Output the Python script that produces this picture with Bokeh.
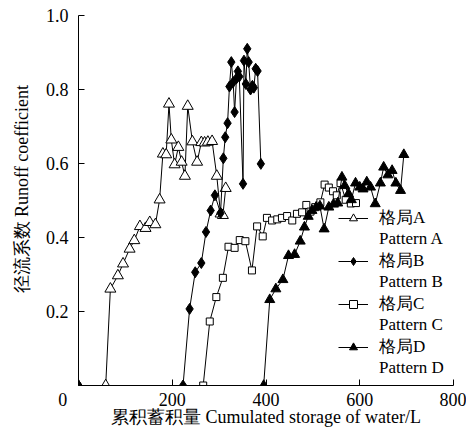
from bokeh.plotting import figure
from bokeh.models import (Range1d, FixedTicker, Legend, LegendItem,
                          NumeralTickFormatter, CustomJSTickFormatter)
from bokeh.embed import file_html
from bokeh.resources import INLINE

# ---------------- data ----------------
x_ticks = [0, 200, 400, 600, 800]
y_ticks = [0.2, 0.4, 0.6, 0.8, 1.0]

a_x = [58, 68, 84, 95, 109, 119, 131, 143, 152, 164, 173, 180, 187, 193, 198, 205, 213,
       220, 227, 233, 243, 253, 262, 269, 276, 285, 295, 303, 308, 314]
a_y = [0, 0.261, 0.297, 0.329, 0.369, 0.392, 0.430, 0.425, 0.441, 0.435, 0.502, 0.626, 0.624,
       0.761, 0.664, 0.597, 0.644, 0.604, 0.566, 0.755, 0.659, 0.604, 0.657, 0.656, 0.658,
       0.660, 0.566, 0.464, 0.460, 0.533]

b_x = [0, 223, 237, 249, 262, 272, 282, 291, 303, 309, 313, 318, 322, 326, 330, 333, 337,
       340, 343, 351, 353, 357, 360, 363, 367, 371, 374, 378, 382, 389]
b_y = [0, 0, 0.207, 0.306, 0.331, 0.415, 0.473, 0.514, 0.466, 0.614, 0.671, 0.709, 0.808,
       0.874, 0.820, 0.739, 0.830, 0.849, 0.835, 0.545, 0.878, 0.815, 0.910, 0.874, 0.800,
       0.810, 0.805, 0.856, 0.850, 0.599]

c_x = [266, 280, 294, 308, 320, 333, 344, 356, 370, 381, 393, 402, 413, 424, 434, 445, 456,
       466, 477, 486, 495, 505, 516, 525, 534, 543, 551, 559, 570, 581, 592]
c_y = [0, 0.173, 0.239, 0.291, 0.375, 0.372, 0.393, 0.390, 0.311, 0.430, 0.403, 0.453,
       0.446, 0.449, 0.453, 0.458, 0.446, 0.464, 0.468, 0.488, 0.470, 0.482, 0.495, 0.543,
       0.535, 0.525, 0.514, 0.547, 0.502, 0.492, 0.493]

d_x = [0, 395, 408, 421, 436, 448, 461, 473, 482, 490, 498, 507, 515, 524, 534, 544, 553,
       562, 568, 576, 582, 591, 600, 607, 615, 623, 633, 644, 651, 660, 669, 677, 687, 694]
d_y = [0, 0, 0.232, 0.261, 0.286, 0.351, 0.354, 0.390, 0.428, 0.457, 0.473, 0.482, 0.485,
       0.423, 0.482, 0.490, 0.493, 0.563, 0.540, 0.518, 0.502, 0.547, 0.536, 0.531, 0.550,
       0.536, 0.491, 0.547, 0.590, 0.569, 0.581, 0.547, 0.527, 0.624]

names_cn = ["格局A", "格局B", "格局C", "格局D"]
names_en = ["Pattern A", "Pattern B", "Pattern C", "Pattern D"]

x_label = "累积蓄积量 Cumulated storage of water/L"
y_label = "径流系数 Runoff coefficient"

FONT = "Liberation Serif"
NB = "\u00a0"

# ---------------- figure ----------------
p = figure(width=466, height=437, output_backend="svg", toolbar_location=None,
           x_range=Range1d(0, 800), y_range=Range1d(0, 1.0),
           min_border_left=78, min_border_right=13, min_border_top=15, min_border_bottom=52)
p.outline_line_color = None
p.xgrid.visible = False
p.ygrid.visible = False
p.background_fill_color = "white"
p.border_fill_color = "white"

for ax in (p.xaxis[0], p.yaxis[0]):
    ax.axis_line_color = "black"
    ax.axis_line_width = 1
    ax.major_tick_in = 6
    ax.major_tick_out = 0
    ax.minor_tick_in = 0
    ax.minor_tick_out = 0
    ax.major_tick_line_color = "black"
    ax.major_label_text_font = FONT
    ax.major_label_text_font_size = "18px"
    ax.major_label_text_color = "black"
    ax.axis_label_text_font = FONT
    ax.axis_label_text_font_size = "18px"
    ax.axis_label_text_font_style = "normal"
    ax.axis_label_text_color = "black"

p.xaxis.ticker = FixedTicker(ticks=x_ticks)
p.yaxis.ticker = FixedTicker(ticks=y_ticks)
# the origin "0" sits left of the corner in the reference: pad it on the right
p.xaxis.formatter = CustomJSTickFormatter(
    code="return tick == 0 ? '0' + '\\u00a0'.repeat(7) : String(tick);")
p.yaxis.formatter = NumeralTickFormatter(format="0.0")
p.xaxis.axis_label = x_label
p.yaxis.axis_label = NB * 5 + y_label
p.xaxis.major_label_standoff = 4
p.xaxis.axis_label_standoff = -6
p.yaxis.major_label_standoff = 10
p.yaxis.axis_label_standoff = 11

series = [
    (a_x, a_y, "triangle", 11, "white", "black"),
    (b_x, b_y, "diamond", 11, "black", "black"),
    (c_x, c_y, "square", 7, "white", "black"),
    (d_x, d_y, "triangle", 10, "black", "black"),
]

items = []
for (xs, ys, marker, size, fill, line), cn, en in zip(series, names_cn, names_en):
    r_line = p.line(xs, ys, line_color="black", line_width=1)
    r_pts = p.scatter(xs, ys, marker=marker, size=size, fill_color=fill,
                      line_color=line, line_width=1)
    dummy = p.line([], [], line_alpha=0)
    items.append(LegendItem(label=cn, renderers=[r_line, r_pts]))
    items.append(LegendItem(label=en, renderers=[dummy]))

legend = Legend(items=items, location=(260, 7), orientation="vertical",
                label_text_font=FONT, label_text_font_size="17px",
                label_text_color="black",
                label_height=20, glyph_height=20, glyph_width=30, spacing=0,
                padding=0, margin=0, label_standoff=11,
                border_line_color=None, background_fill_alpha=0)
p.add_layout(legend)

open("out.html", "w").write(file_html(p, INLINE))
